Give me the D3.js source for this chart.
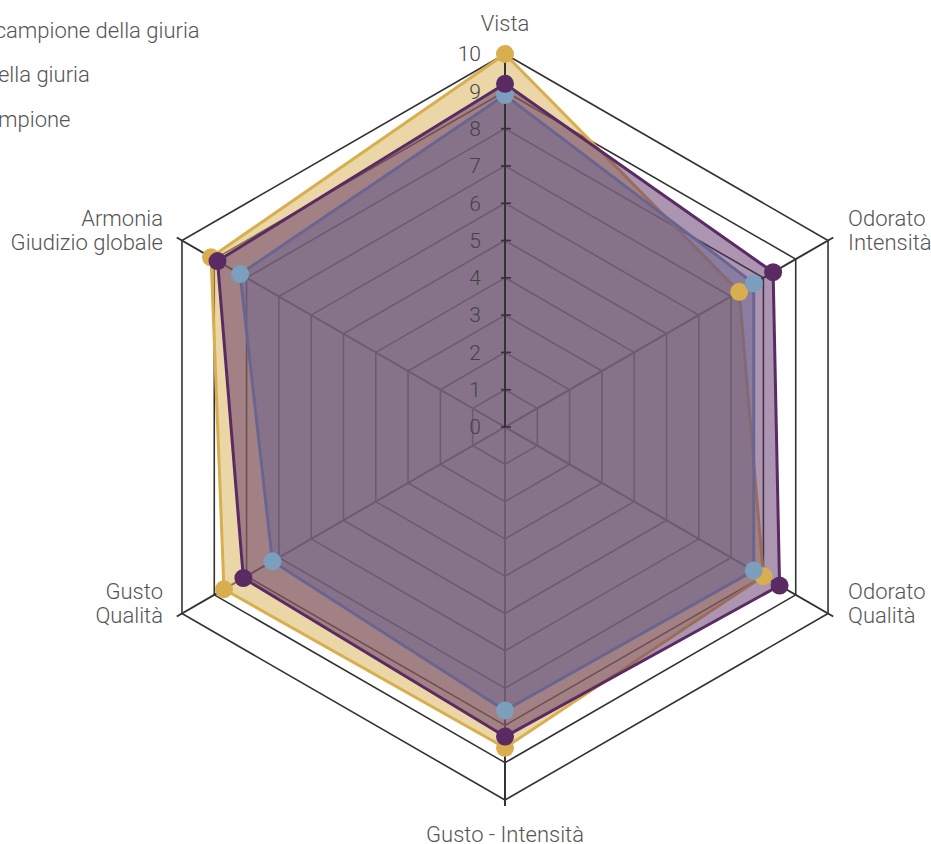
<!DOCTYPE html>
<html>
<head>
<meta charset="utf-8">
<script src="https://cdn.jsdelivr.net/npm/d3@7"></script>
<style>
    html, body { margin: 0; padding: 0; background: #fff; overflow: hidden; }
    svg { display: block; font-family: Roboto, "Noto Sans", sans-serif; font-weight: 300; }
</style>
</head>
<body>
<svg id="chart"></svg>
<script>
// axes of the radar, clockwise from the top
var axisLabels = [
    ["Vista"],
    ["Odorato", "Intensità"],
    ["Odorato", "Qualità"],
    ["Gusto - Intensità"],
    ["Gusto", "Qualità"],
    ["Armonia", "Giudizio globale"]
];
var tickValues = [0, 1, 2, 3, 4, 5, 6, 7, 8, 9, 10];

// drawing order: yellow, blue, purple
var seriesNames = ["Media del campione della giuria", "Campione", "Media della giuria"];
var seriesColors = ["#d8ae4f", "#7b9fbc", "#5a2b63"];
var yellowValues = [10, 7.25, 8.0, 8.6, 8.7, 9.1];
var blueValues = [8.9, 7.7, 7.7, 7.6, 7.2, 8.2];
var purpleValues = [9.2, 8.3, 8.5, 8.3, 8.1, 8.9];
var seriesValues = [yellowValues, blueValues, purpleValues];

// legend order (index into series) and the part of each label cut by the left edge
var legendOrder = [0, 2, 1];
var legendHidden = ["Media del c", "Media d", "Ca"];

var width = 931;
var height = 844;
var cx = 505;
var cy = 427;
var R = 373;

var r = d3.scaleLinear()
    .domain([0, 10])
    .range([0, R]);

var n = axisLabels.length;
function angle(i) { return i * 2 * Math.PI / n; }
function pt(i, v) {
    return [cx + r(v) * Math.sin(angle(i)), cy - r(v) * Math.cos(angle(i))];
}

var svg = d3.select('#chart')
    .attr('width', width)
    .attr('height', height);

var closedLine = d3.line().curve(d3.curveLinearClosed);

// grid hexagons
svg.append('g')
    .selectAll('path')
    .data(tickValues.slice(1))
    .enter()
    .append('path')
    .attr('d', function(v) {
        return closedLine(d3.range(n).map(function(i) { return pt(i, v); }));
    })
    .attr('fill', 'none')
    .attr('stroke', '#333')
    .attr('stroke-width', 1.6);

// spokes, a little past the outer ring
svg.append('g')
    .selectAll('line')
    .data(d3.range(1, n))
    .enter()
    .append('line')
    .attr('x1', cx)
    .attr('y1', cy)
    .attr('x2', function(i) { return cx + (R + 6) * Math.sin(angle(i)); })
    .attr('y2', function(i) { return cy - (R + 6) * Math.cos(angle(i)); })
    .attr('stroke', '#333')
    .attr('stroke-width', 2);

// series areas
seriesValues.forEach(function(vals, s) {
    var pts = vals.map(function(v, i) { return pt(i, v); });
    svg.append('path')
        .attr('d', closedLine(pts))
        .attr('fill', seriesColors[s])
        .attr('fill-opacity', 0.5)
        .attr('stroke', seriesColors[s])
        .attr('stroke-width', 3)
        .attr('stroke-linejoin', 'round');
});

// Vista axis with ticks, over the areas
var ticks = svg.append('g');
ticks.append('line')
    .attr('x1', cx)
    .attr('y1', cy)
    .attr('x2', cx)
    .attr('y2', cy - R)
    .attr('stroke', '#333')
    .attr('stroke-width', 2);
ticks.selectAll('line.tick')
    .data(tickValues)
    .enter()
    .append('line')
    .attr('class', 'tick')
    .attr('x1', cx - 4)
    .attr('x2', cx + 6)
    .attr('y1', function(v) { return cy - r(v); })
    .attr('y2', function(v) { return cy - r(v); })
    .attr('stroke', '#333')
    .attr('stroke-width', 1.6);
ticks.selectAll('text')
    .data(tickValues)
    .enter()
    .append('text')
    .attr('x', cx - 24)
    .attr('y', function(v) { return cy - r(v); })
    .attr('dy', '0.35em')
    .attr('text-anchor', 'end')
    .attr('font-size', 21)
    .attr('fill', '#444')
    .text(function(v) { return v; });

// series dots
seriesValues.forEach(function(vals, s) {
    svg.append('g')
        .selectAll('circle')
        .data(vals)
        .enter()
        .append('circle')
        .attr('cx', function(v, i) { return pt(i, v)[0]; })
        .attr('cy', function(v, i) { return pt(i, v)[1]; })
        .attr('r', 9)
        .attr('fill', seriesColors[s]);
});

// axis labels
var lab = svg.append('g')
    .selectAll('text')
    .data(axisLabels)
    .enter()
    .append('text')
    .attr('font-size', 22)
    .attr('fill', '#555')
    .attr('text-anchor', function(d, i) {
        var sx = Math.sin(angle(i));
        return Math.abs(sx) < 0.01 ? 'middle' : (sx > 0 ? 'start' : 'end');
    })
    .attr('transform', function(d, i) {
        var sx = Math.sin(angle(i)), cyy = Math.cos(angle(i));
        var p = pt(i, 10);
        if (Math.abs(sx) < 0.01) {
            return 'translate(' + p[0] + ',' + (cyy > 0 ? p[1] - 31 : p[1] + 34) + ')';
        }
        return 'translate(' + (p[0] + (sx > 0 ? 20 : -19)) + ',' + (p[1] - 22) + ')';
    });
lab.selectAll('tspan')
    .data(function(d) { return d; })
    .enter()
    .append('tspan')
    .attr('x', 0)
    .attr('y', function(d, k) { return k * 24; })
    .attr('dy', '0.35em')
    .text(function(d) { return d; });

// legend, partly off the left edge
var legend = svg.append('g');
legendOrder.forEach(function(s, k) {
    var probe = legend.append('text')
        .attr('font-size', 22)
        .text(legendHidden[k]);
    var shift = probe.node().getComputedTextLength();
    probe.remove();
    // first item keeps most of its cut "c" in view
    if (k === 0) shift -= 8;
    var item = legend.append('g')
        .attr('transform', 'translate(' + (-shift - 2) + ',' + (30 + k * 44.5) + ')');
    item.append('circle')
        .attr('cx', -18)
        .attr('r', 8)
        .attr('fill', seriesColors[s]);
    item.append('text')
        .attr('dy', '0.35em')
        .attr('font-size', 22)
        .attr('fill', '#555')
        .text(seriesNames[s]);
});
</script>
</body>
</html>
